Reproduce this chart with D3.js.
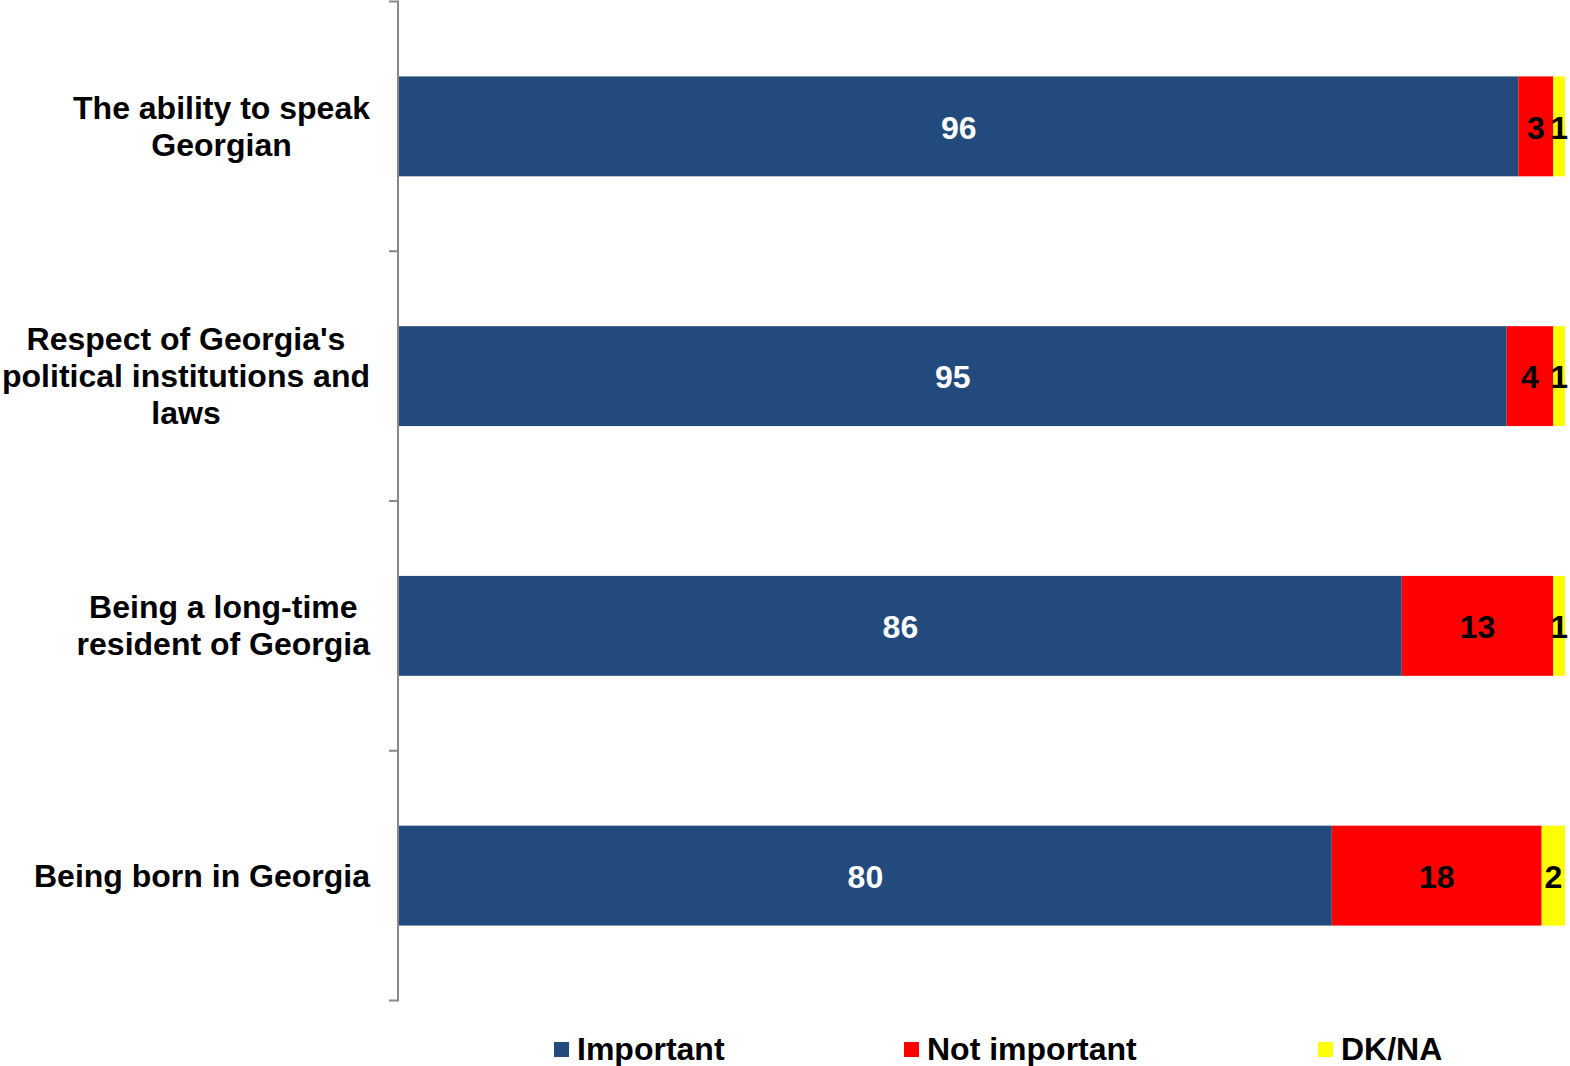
<!DOCTYPE html>
<html>
<head>
<meta charset="utf-8">
<script src="https://cdn.jsdelivr.net/npm/d3@7"></script>
<style>
  html, body { margin: 0; padding: 0; background: #fff; }
  svg text { font-family: "Liberation Sans", Arial, sans-serif; font-weight: bold; }
</style>
</head>
<body>
<svg id="chart" width="1570" height="1066"></svg>
<script>
// Survey items (each label split into display lines)
const categories = [
  ["The ability to speak", "Georgian"],
  ["Respect of Georgia's", "political institutions and", "laws"],
  ["Being a long-time", "resident of Georgia"],
  ["Being born in Georgia"]
];
const seriesNames = ["Important", "Not important", "DK/NA"];
const important    = [96, 95, 86, 80];
const notImportant = [3, 4, 13, 18];
const dkna         = [1, 1, 1, 2];
const colors = ["#224A7D", "#FF0000", "#FFFF00"];
const labelColors = ["#FFFFFF", "#000000", "#000000"];

const svg = d3.select("#chart");
const keys = categories.map((c, i) => "c" + i);

const rows = keys.map((k, i) => ({
  key: k,
  "Important": important[i],
  "Not important": notImportant[i],
  "DK/NA": dkna[i]
}));

const x = d3.scaleLinear().domain([0, 100]).range([399, 1565]);
const y = d3.scaleBand().domain(keys).range([1.5, 1000.5])
  .paddingInner(0.6).paddingOuter(0.3);

const stacked = d3.stack().keys(seriesNames)(rows);

// Bars and value labels
stacked.forEach((layer, si) => {
  const g = svg.append("g");
  g.selectAll("rect").data(layer).join("rect")
    .attr("x", d => x(d[0]))
    .attr("y", d => y(d.data.key))
    .attr("width", d => x(d[1]) - x(d[0]))
    .attr("height", y.bandwidth())
    .attr("fill", colors[si]);
  g.selectAll("text").data(layer).join("text")
    .attr("x", d => (x(d[0]) + x(d[1])) / 2)
    .attr("y", d => y(d.data.key) + y.bandwidth() / 2)
    .attr("dy", "0.38em")
    .attr("text-anchor", "middle")
    .attr("font-size", 32)
    .attr("fill", labelColors[si])
    .text(d => d[1] - d[0]);
});

// Category axis: vertical line with ticks between categories
const step = y.step();
const r0 = y.range()[0];
const bounds = d3.range(keys.length + 1).map(i => r0 + i * step);
const axis = svg.append("g").attr("stroke", "#888").attr("stroke-width", 2);
axis.append("line")
  .attr("x1", 398).attr("x2", 398)
  .attr("y1", bounds[0] - 1).attr("y2", bounds[bounds.length - 1] + 1);
axis.selectAll("line.tick").data(bounds).join("line")
  .attr("class", "tick")
  .attr("x1", 389).attr("x2", 398)
  .attr("y1", d => d).attr("y2", d => d);

// Category labels: lines centred on one another, block right-aligned
const labelRight = 370;
const lineH = 37;
categories.forEach((lines, i) => {
  const cy = y(keys[i]) + y.bandwidth() / 2;
  const t = svg.append("text")
    .attr("font-size", 32)
    .attr("text-anchor", "middle")
    .attr("fill", "#000");
  const spans = lines.map((ln, j) => t.append("tspan")
    .attr("y", cy + (j - (lines.length - 1) / 2) * lineH)
    .attr("dy", "0.34em")
    .text(ln));
  const maxW = d3.max(spans, s => s.node().getComputedTextLength());
  spans.forEach(s => s.attr("x", labelRight - maxW / 2));
});

// Legend
const legendX = [554, 904, 1318];
const legend = svg.append("g");
seriesNames.forEach((name, i) => {
  legend.append("rect")
    .attr("x", legendX[i]).attr("y", 1042)
    .attr("width", 15).attr("height", 15)
    .attr("fill", colors[i]);
  legend.append("text")
    .attr("x", legendX[i] + 23).attr("y", 1060)
    .attr("font-size", 32)
    .attr("fill", "#000")
    .text(name);
});
</script>
</body>
</html>
